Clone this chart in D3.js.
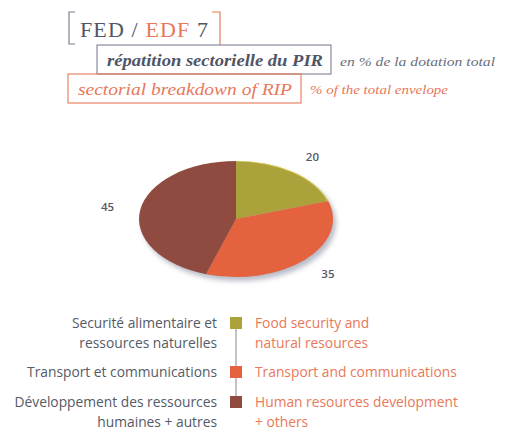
<!DOCTYPE html>
<html>
<head>
<meta charset="utf-8">
<script src="https://cdn.jsdelivr.net/npm/d3@7"></script>
<style>
  body { margin: 0; background: #fff; }
  svg { display: block; }
  .serif { font-family: "Liberation Serif", "Times New Roman", serif; }
  .sans { font-family: "Open Sans", "Noto Sans", sans-serif; }
</style>
</head>
<body>
<svg id="chart" width="509" height="431"></svg>
<script>
// sector shares, % of total envelope
const sectorValues = [20, 35, 45];
const sectorsFr = [["Securité alimentaire et", "ressources naturelles"], ["Transport et communications"], ["Développement des ressources", "humaines + autres"]];
const sectorsEn = [["Food security and", "natural resources"], ["Transport and communications"], ["Human resources development", "+ others"]];
const sectorColors = ["#aba23c", "#e4623d", "#8f4b3f"];

const svg = d3.select("#chart");
const grey = "#4f5566", salmon = "#e8785a", frame = "#7d8296";

// ---- header ----
const head = svg.append("g");
// left bracket (grey) and right bracket (salmon)
head.append("path").attr("d", "M75,12 H69 V44 H75").attr("fill", "none").attr("stroke", frame).attr("stroke-width", 1.2);
head.append("path").attr("d", "M212,12 H220 V45").attr("fill", "none").attr("stroke", salmon).attr("stroke-width", 1.2);
const t = head.append("text").attr("class", "serif").attr("x", 80).attr("y", 37).attr("font-size", 22)
  .attr("textLength", 128).attr("lengthAdjust", "spacing");
t.append("tspan").attr("fill", grey).text("FED / ");
t.append("tspan").attr("fill", salmon).text("EDF");
t.append("tspan").attr("fill", grey).text(" 7");

// box 1 — french subtitle
head.append("rect").attr("x", 97).attr("y", 45).attr("width", 234).attr("height", 29)
  .attr("fill", "none").attr("stroke", frame).attr("stroke-width", 1.1);
head.append("text").attr("class", "serif").attr("x", 107).attr("y", 66).attr("font-size", 17)
  .attr("font-style", "italic").attr("font-weight", "bold").attr("fill", grey)
  .attr("textLength", 216).attr("lengthAdjust", "spacingAndGlyphs").text("répatition sectorielle du PIR");
head.append("text").attr("class", "serif").attr("x", 340).attr("y", 66).attr("font-size", 12.5)
  .attr("font-style", "italic").attr("fill", "#6a6e7c")
  .attr("textLength", 155).attr("lengthAdjust", "spacingAndGlyphs").text("en % de la dotation total");

// box 2 — english subtitle
head.append("rect").attr("x", 68).attr("y", 74).attr("width", 233).attr("height", 29)
  .attr("fill", "none").attr("stroke", salmon).attr("stroke-width", 1.1);
head.append("text").attr("class", "serif").attr("x", 78).attr("y", 95).attr("font-size", 17)
  .attr("font-style", "italic").attr("fill", salmon)
  .attr("textLength", 214).attr("lengthAdjust", "spacingAndGlyphs").text("sectorial breakdown of RIP");
head.append("text").attr("class", "serif").attr("x", 310).attr("y", 94).attr("font-size", 12.5)
  .attr("font-style", "italic").attr("fill", salmon)
  .attr("textLength", 138).attr("lengthAdjust", "spacingAndGlyphs").text("% of the total envelope");

// ---- pie (ellipse) ----
const cx = 236, cy = 219, rx = 97, ry = 58;
const defs = svg.append("defs");
defs.append("filter").attr("id", "blur").attr("x", "-20%").attr("y", "-20%").attr("width", "140%").attr("height", "140%")
  .append("feGaussianBlur").attr("stdDeviation", 2.5);

const pieG = svg.append("g").attr("transform", `translate(${cx},${cy})`);
pieG.append("ellipse").attr("cx", 3).attr("cy", 4).attr("rx", rx).attr("ry", ry)
  .attr("fill", "#b9bcc8").attr("filter", "url(#blur)");

const pie = d3.pie().sort(null).value(d => d);
const arcs = pie(sectorValues);
const arc = d3.arc().innerRadius(0).outerRadius(rx);
const squash = pieG.append("g").attr("transform", `scale(1,${ry / rx})`);
squash.selectAll("path").data(arcs).join("path")
  .attr("d", arc).attr("fill", (d, i) => sectorColors[i]);
// thin yellow rim on the olive slice
squash.append("path").datum(arcs[0])
  .attr("d", d3.arc().innerRadius(rx - 1).outerRadius(rx)).attr("fill", "#e6d94a").attr("opacity", 0.8);

const labelArc = d3.arc().innerRadius(rx * 1.34).outerRadius(rx * 1.34);
pieG.selectAll("text.val").data(arcs).join("text")
  .attr("class", "val sans")
  .attr("x", d => labelArc.centroid(d)[0])
  .attr("y", d => labelArc.centroid(d)[1] * ry / rx)
  .attr("text-anchor", "middle").attr("dominant-baseline", "central")
  .attr("font-size", 11.5).attr("font-weight", 600).attr("fill", "#555a66")
  .text(d => d.data);

// ---- legend ----
const legY = [317, 366, 396];
const legX = 230, sq = 12;
svg.append("line").attr("x1", legX + sq / 2).attr("x2", legX + sq / 2)
  .attr("y1", legY[0] + sq).attr("y2", legY[2]).attr("stroke", "#9a98a6").attr("stroke-width", 1.2);
const leg = svg.append("g").selectAll("g").data(sectorValues).join("g");
leg.append("rect").attr("x", legX).attr("y", (d, i) => legY[i]).attr("width", sq).attr("height", sq)
  .attr("fill", (d, i) => sectorColors[i]);
leg.each(function (d, i) {
  const g = d3.select(this);
  sectorsFr[i].forEach((line, j) => {
    g.append("text").attr("class", "sans").attr("x", 217).attr("y", legY[i] + 11 + j * 20).attr("text-anchor", "end")
      .attr("font-size", 13.8).attr("fill", "#555a66").text(line);
  });
  sectorsEn[i].forEach((line, j) => {
    g.append("text").attr("class", "sans").attr("x", 255).attr("y", legY[i] + 11 + j * 20)
      .attr("font-size", 13.8).attr("fill", salmon).text(line);
  });
});
</script>
</body>
</html>
